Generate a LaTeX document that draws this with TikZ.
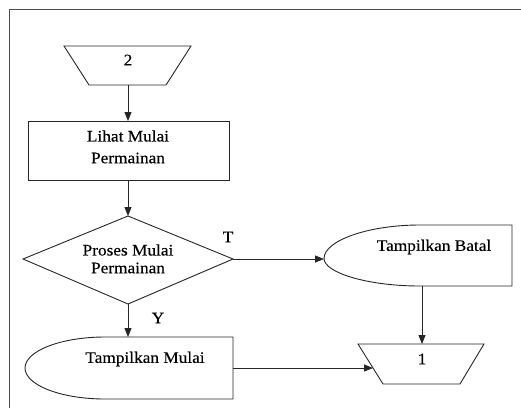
\documentclass[tikz,border=0pt]{standalone}
\usepackage{fontspec}
\setmainfont[FakeStretch=1.08,FakeBold=0.3]{Liberation Serif}
\usetikzlibrary{arrows.meta}
\begin{document}
\begin{tikzpicture}[x=1pt,y=-1pt,
  shp/.style={draw=black!85,line width=0.9pt},
  conn/.style={draw=black!85,line width=0.9pt,-{Triangle[length=9pt,width=7pt]}},
  txt/.style={font=\fontsize{16}{18}\selectfont,inner sep=0pt,align=center},
  lbl/.style={font=\fontsize{16}{18}\selectfont,inner sep=0pt}]
\useasboundingbox (0,0) rectangle (521,408);
\fill[white] (0,0) rectangle (521,408);
% frame
\draw[black!70,line width=1.3pt] (9.5,408) -- (9.5,9.5) -- (521,9.5);
% trapezoid 2
\draw[shp] (64,46) -- (191,46) -- (166,85) -- (89,85) -- cycle;
\node[txt] (n2) at (128,60) {2};
\coordinate (t2b) at (128,85);
% rectangle
\draw[shp] (28,121) rectangle (229,180);
\node[txt] (lihat) at (128,136) {Lihat Mulai};
\node[txt] (lihat2) at (128,158) {Permainan};
\coordinate (rt) at (128,121);
\coordinate (rb) at (128,180);
% diamond
\draw[shp] (128,216) -- (233,259) -- (128,304) -- (23,259) -- cycle;
\node[txt] (proses) at (128,250) {Proses Mulai};
\node[txt] (proses2) at (128,268) {Permainan};
\coordinate (dt) at (128,216);
\coordinate (dr) at (233,259);
\coordinate (db) at (128,304);
% Tampilkan Batal
\draw[shp] (420,225) -- (512,225) -- (512,286) -- (420,286)
  .. controls (367,286) and (324,272.5) .. (324,258.5)
  .. controls (324,241) and (367,225) .. (420,225) -- cycle;
\node[txt] (batal) at (434,247) {Tampilkan Batal};
\coordinate (bl) at (324,259);
\coordinate (bb) at (422,286);
% Tampilkan Mulai
\draw[shp] (105,337) -- (233,337) -- (233,399) -- (105,399)
  .. controls (60.8,399) and (25,385) .. (25,368)
  .. controls (25,351) and (60.8,337) .. (105,337) -- cycle;
\node[txt] (mulai) at (145,359) {Tampilkan Mulai};
\coordinate (mt) at (128,337);
\coordinate (mr) at (233,368);
% trapezoid 1
\draw[shp] (358,344) -- (484,344) -- (460,384) -- (383,384) -- cycle;
\node[txt] (n1) at (422,359) {1};
\coordinate (t1t) at (422,344);
\coordinate (t1l) at (373,368);
% labels
\node[lbl] (T) at (228,237) {T};
\node[lbl] (Y) at (158,318) {Y};
% connectors
\draw[conn] (t2b) -- (rt);
\draw[conn] (rb) -- (dt);
\draw[conn] (dr) -- (bl);
\draw[conn] (db) -- (mt);
\draw[conn] (bb) -- (t1t);
\draw[conn] (mr) -- (t1l);
\end{tikzpicture}
\end{document}
